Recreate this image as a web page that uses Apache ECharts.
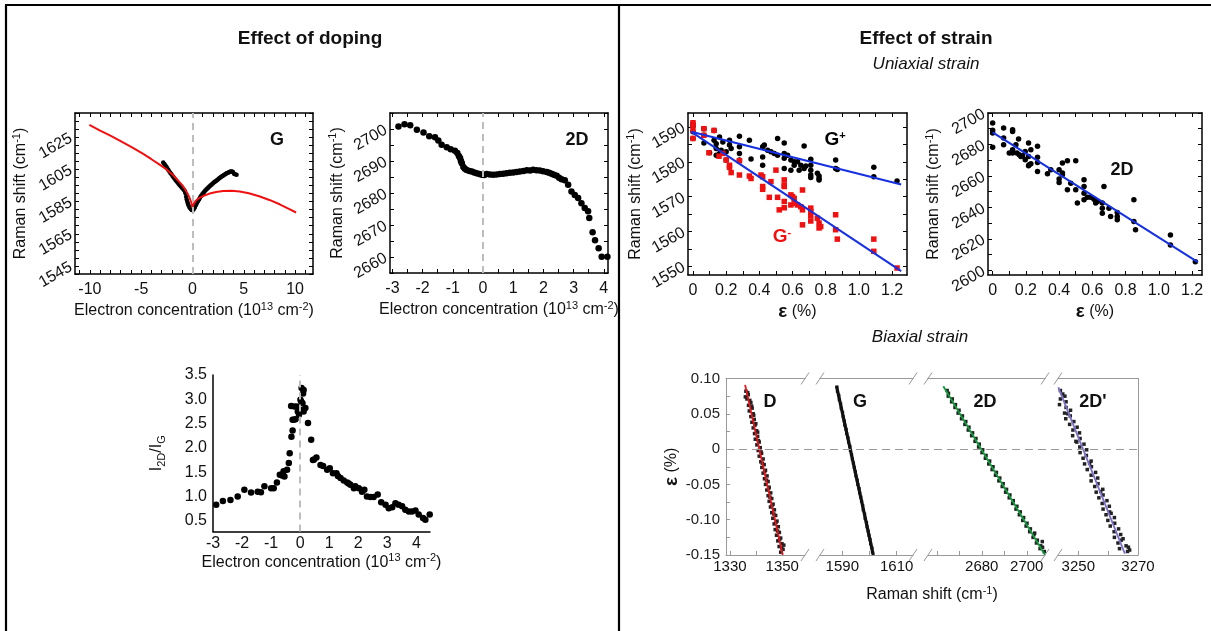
<!DOCTYPE html>
<html><head><meta charset="utf-8">
<script src="https://cdn.jsdelivr.net/npm/echarts@6/dist/echarts.min.js"></script>
<style>html,body{margin:0;padding:0;background:#fff}#c{width:1211px;height:631px}</style>
</head><body><div id="c"></div>
<script>
// ================= DATA =================
// Panel A: G peak vs electron concentration
const gDopXLabels = [-10, -5, 0, 5, 10];
const gDopYLabels = [1545, 1565, 1585, 1605, 1625];
const gDopData = [[-2.85,1609.3],[-2.75,1608.4],[-2.65,1607.5],[-2.55,1606.6],[-2.45,1605.7],[-2.35,1604.6],[-2.25,1603.6],[-2.15,1602.8],[-2.05,1601.9],[-1.95,1601.0],[-1.85,1600.1],[-1.75,1599.3],[-1.65,1598.4],[-1.55,1597.6],[-1.45,1596.8],[-1.35,1596.1],[-1.25,1595.3],[-1.15,1594.5],[-1.05,1593.8],[-0.95,1593.1],[-0.85,1592.4],[-0.75,1591.6],[-0.68,1590.2],[-0.62,1588.0],[-0.56,1586.2],[-0.5,1584.9],[-0.44,1583.6],[-0.38,1582.6],[-0.3,1581.6],[-0.22,1580.8],[-0.14,1580.2],[-0.06,1579.8],[0.02,1579.7],[0.1,1580.1],[0.18,1580.9],[0.26,1581.9],[0.35,1583.0],[0.45,1584.2],[0.55,1585.4],[0.65,1586.5],[0.75,1587.6],[0.85,1588.6],[0.95,1589.5],[1.05,1590.3],[1.15,1591.1],[1.25,1591.8],[1.35,1592.5],[1.45,1593.1],[1.55,1593.7],[1.65,1594.3],[1.75,1594.9],[1.85,1595.5],[1.95,1596.1],[2.05,1596.6],[2.15,1597.1],[2.25,1597.6],[2.35,1598.1],[2.45,1598.6],[2.55,1599.1],[2.65,1599.6],[2.75,1600.1],[2.85,1600.6],[2.95,1601.0],[3.05,1601.4],[3.15,1601.8],[3.25,1602.2],[3.35,1602.6],[3.45,1602.9],[3.55,1603.2],[3.65,1603.5],[3.75,1603.7],[3.85,1603.6],[3.95,1603.3],[4.05,1602.2],[4.15,1601.9],[4.3,1601.7]];
const gDopTheory = [[-10.05,1632.6],[-9,1629.0],[-8,1625.9],[-7,1622.5],[-5.8,1618.3],[-4.8,1614.6],[-4,1611.3],[-3.2,1607.9],[-2.5,1604.8],[-1.9,1601.5],[-1.4,1598.0],[-1.0,1595.2],[-0.73,1592.6],[-0.5,1590.2],[-0.3,1587.6],[-0.15,1585.0],[-0.05,1582.8],[0,1581.0],[0.05,1582.4],[0.15,1583.9],[0.3,1585.3],[0.5,1586.5],[0.75,1587.5],[1.1,1588.6],[1.6,1589.8],[2.3,1590.9],[3.0,1591.5],[3.8,1591.7],[4.6,1591.3],[5.5,1590.2],[6.5,1588.3],[7.5,1586.0],[8.5,1583.3],[9.4,1580.5],[10.1,1578.2]];

// Panel B: 2D peak vs electron concentration
const d2DopXLabels = [-3, -2, -1, 0, 1, 2, 3, 4];
const d2DopYLabels = [2660, 2670, 2680, 2690, 2700];
const d2DopData = [[-2.8,2700.8],[-2.6,2701.5],[-2.41,2701.2],[-2.19,2699.8],[-1.97,2698.9],[-1.78,2697.7],[-1.59,2697.4],[-1.48,2696.4],[-1.37,2695.1],[-1.2,2694.3],[-1.07,2693.7],[-0.93,2693.2],[-0.85,2692.5],[-0.8,2691.6],[-0.76,2690.9],[-0.73,2690.0],[-0.7,2689.3],[-0.65,2688.1],[-0.6,2687.6],[-0.54,2687.2],[-0.45,2686.9],[-0.37,2686.7],[-0.29,2686.4],[-0.21,2686.2],[-0.12,2685.9],[-0.04,2685.7],[0.04,2685.6],[0.12,2685.9],[0.23,2685.8],[0.34,2685.7],[0.45,2685.8],[0.56,2685.9],[0.67,2686.0],[0.78,2686.2],[0.89,2686.3],[1.0,2686.4],[1.11,2686.6],[1.22,2686.7],[1.34,2686.9],[1.45,2687.1],[1.56,2687.0],[1.66,2687.3],[1.77,2687.1],[1.88,2687.0],[1.99,2686.8],[2.11,2686.6],[2.19,2686.3],[2.27,2686.0],[2.35,2685.7],[2.44,2685.4],[2.52,2684.8],[2.6,2684.3],[2.71,2684.0],[2.82,2682.6],[2.93,2680.5],[3.04,2679.4],[3.15,2678.4],[3.26,2676.8],[3.37,2675.3],[3.48,2674.3],[3.52,2672.2],[3.63,2667.7],[3.71,2665.2],[3.83,2662.7],[3.93,2660.1],[4.12,2660.1]];

// Panel C: I2D/IG vs electron concentration
const ratioXLabels = [-3, -2, -1, 0, 1, 2, 3, 4];
const ratioYLabels = [0.5, 1.0, 1.5, 2.0, 2.5, 3.0, 3.5];
const ratioData = [[-2.89,0.83],[-2.66,0.91],[-2.40,0.93],[-2.15,1.0],[-1.92,1.14],[-1.69,1.08],[-1.46,1.10],[-1.35,1.09],[-1.23,1.21],[-1.0,1.17],[-0.91,1.17],[-0.80,1.29],[-0.70,1.45],[-0.62,1.43],[-0.60,1.46],[-0.57,1.52],[-0.54,1.41],[-0.45,1.55],[-0.39,1.69],[-0.36,1.89],[-0.30,2.23],[-0.26,2.36],[-0.26,2.58],[-0.22,2.58],[-0.16,2.59],[-0.31,2.86],[-0.20,2.85],[-0.11,2.85],[-0.08,2.75],[-0.04,2.68],[0.01,2.99],[0.04,2.95],[0.05,3.23],[0.12,3.19],[0.10,3.12],[0.08,2.92],[0.12,2.75],[0.18,2.82],[0.01,2.78],[0.27,2.51],[0.38,2.17],[0.44,1.75],[0.48,1.76],[0.56,1.80],[0.70,1.65],[0.79,1.63],[0.93,1.55],[1.02,1.58],[1.13,1.48],[1.25,1.48],[1.30,1.42],[1.39,1.38],[1.50,1.33],[1.62,1.29],[1.67,1.27],[1.73,1.24],[1.85,1.17],[1.90,1.21],[2.02,1.17],[2.13,1.10],[2.21,1.14],[2.30,1.0],[2.42,0.99],[2.53,0.99],[2.67,1.04],[2.79,0.88],[2.94,0.83],[3.05,0.76],[3.17,0.78],[3.28,0.86],[3.39,0.83],[3.51,0.80],[3.62,0.73],[3.74,0.69],[3.85,0.69],[3.97,0.71],[4.08,0.63],[4.23,0.56],[4.31,0.52],[4.46,0.63]];

// Panel D: uniaxial strain, G+ / G-
const strainXLabels = [0, 0.2, 0.4, 0.6, 0.8, 1.0, 1.2];
const gStrYLabels = [1550, 1560, 1570, 1580, 1590];
const gPlusData = [[0,1590.9],[0,1590.2],[0,1588.6],[0,1586.7],[0.066,1589.5],[0.066,1587.6],[0.066,1585.4],[0.127,1589.0],[0.127,1586.2],[0.10,1582.6],[0.14,1585.2],[0.14,1583.8],[0.14,1581.9],[0.16,1587.1],[0.16,1582.4],[0.18,1585.7],[0.17,1583.3],[0.2,1582.9],[0.2,1580.5],[0.22,1586.2],[0.22,1584.8],[0.23,1583.8],[0.28,1587.3],[0.28,1584.3],[0.28,1582.4],[0.28,1580.5],[0.34,1586.2],[0.35,1580.8],[0.42,1584.3],[0.42,1581.4],[0.42,1579.0],[0.43,1584.8],[0.45,1583.3],[0.47,1582.9],[0.49,1582.4],[0.51,1586.7],[0.51,1581.9],[0.55,1585.4],[0.55,1582.4],[0.55,1581.0],[0.55,1578.1],[0.57,1581.9],[0.59,1580.5],[0.59,1577.6],[0.61,1580.0],[0.61,1579.0],[0.63,1580.0],[0.64,1577.6],[0.65,1579.0],[0.67,1584.5],[0.67,1578.1],[0.68,1578.8],[0.71,1580.7],[0.71,1579.0],[0.71,1577.6],[0.71,1576.2],[0.71,1575.5],[0.75,1576.7],[0.76,1575.9],[0.76,1575.2],[0.76,1574.8],[0.86,1580.5],[0.86,1578.1],[0.87,1577.8],[1.09,1578.4],[1.09,1575.7],[1.23,1574.5]];
const gMinusData = [[0,1591.2],[0,1590.5],[0,1589.0],[0,1586.7],[0.066,1589.5],[0.066,1587.6],[0.096,1582.6],[0.127,1589.0],[0.157,1581.6],[0.18,1582.4],[0.2,1580.5],[0.22,1579.0],[0.22,1578.4],[0.23,1576.9],[0.28,1576.2],[0.28,1580.3],[0.34,1575.9],[0.35,1575.2],[0.41,1576.2],[0.42,1575.7],[0.42,1572.9],[0.42,1572.1],[0.47,1574.3],[0.46,1569.8],[0.50,1577.6],[0.51,1569.8],[0.52,1566.2],[0.55,1574.8],[0.55,1573.3],[0.55,1572.9],[0.55,1568.6],[0.55,1566.8],[0.59,1570.5],[0.59,1567.6],[0.60,1570.0],[0.61,1569.5],[0.61,1568.1],[0.63,1567.6],[0.65,1567.1],[0.66,1571.9],[0.66,1566.2],[0.66,1561.9],[0.71,1566.7],[0.71,1565.7],[0.71,1564.5],[0.71,1563.0],[0.75,1563.8],[0.76,1562.4],[0.76,1561.0],[0.77,1561.4],[0.86,1564.8],[0.86,1560.5],[0.87,1557.8],[1.09,1557.8],[1.09,1554.3],[1.23,1549.5]];
const gPlusFit = [[-0.01,1588.6],[1.255,1573.5]];
const gMinusFit = [[-0.01,1588.6],[1.255,1548.6]];

// Panel E: uniaxial strain, 2D
const d2StrYLabels = [2600, 2620, 2640, 2660, 2680, 2700];
const d2StrData = [[0,2693.6],[0,2689.0],[0,2687.3],[0,2678.3],[0.066,2690.4],[0.066,2684.1],[0.066,2679.8],[0.10,2674.5],[0.12,2689.4],[0.12,2688.3],[0.12,2676.6],[0.12,2674.5],[0.14,2679.8],[0.156,2683.4],[0.146,2674.5],[0.16,2673.5],[0.17,2672.4],[0.18,2672.8],[0.196,2675.6],[0.196,2670.3],[0.216,2680.9],[0.216,2672.4],[0.22,2667.1],[0.216,2666.5],[0.23,2676.6],[0.23,2667.7],[0.27,2678.8],[0.27,2671.8],[0.27,2668.6],[0.27,2662.8],[0.33,2661.4],[0.35,2663.9],[0.40,2663.9],[0.40,2658.0],[0.40,2655.8],[0.42,2661.8],[0.42,2660.7],[0.42,2668.2],[0.45,2669.6],[0.45,2651.2],[0.47,2655.4],[0.50,2669.6],[0.50,2651.2],[0.51,2642.7],[0.55,2657.5],[0.55,2653.3],[0.55,2649.0],[0.55,2644.8],[0.57,2646.5],[0.59,2646.5],[0.61,2645.2],[0.62,2642.7],[0.63,2643.7],[0.67,2653.3],[0.66,2642.7],[0.66,2639.5],[0.66,2636.3],[0.70,2639.5],[0.71,2634.2],[0.75,2636.7],[0.75,2632.1],[0.75,2634.2],[0.85,2644.8],[0.85,2631.0],[0.86,2625.7],[1.07,2622.5],[1.07,2616.1],[1.22,2605.5]];
const d2StrFit = [[0,2687.7],[1.235,2605.2]];

// Panel F: biaxial strain (strain vs Raman shift, broken x axis)
const biaxYLabels = [0.10, 0.05, 0, -0.05, -0.10, -0.15];
const biaxDLabels = [1330, 1350];
const biaxGLabels = [1590, 1610];
const biax2DLabels = [2680, 2700];
const biax2DpLabels = [3250, 3270];
const biaxD = [[1336.1,0.082],[1336.8,0.080],[1337.0,0.077],[1335.9,0.074],[1336.5,0.071],[1337.6,0.069],[1338.0,0.066],[1337.1,0.062],[1338.3,0.061],[1338.5,0.058],[1337.4,0.054],[1338.9,0.050],[1339.1,0.048],[1338.0,0.046],[1339.3,0.042],[1338.4,0.038],[1339.9,0.036],[1339.6,0.034],[1338.9,0.030],[1340.2,0.026],[1340.6,0.024],[1339.4,0.022],[1340.6,0.018],[1339.7,0.014],[1340.9,0.012],[1341.2,0.010],[1340.3,0.006],[1341.6,0.002],[1340.8,-0.002],[1341.9,-0.004],[1342.1,-0.006],[1341.2,-0.010],[1342.7,-0.014],[1341.8,-0.018],[1342.4,-0.020],[1343.1,-0.022],[1342.2,-0.026],[1343.6,-0.030],[1343.3,-0.032],[1342.7,-0.034],[1344.2,-0.038],[1343.2,-0.042],[1344.0,-0.044],[1344.6,-0.046],[1343.6,-0.050],[1345.0,-0.054],[1344.8,-0.056],[1344.1,-0.058],[1345.6,-0.062],[1344.6,-0.066],[1345.3,-0.068],[1346.0,-0.070],[1345.0,-0.074],[1346.5,-0.078],[1346.1,-0.080],[1345.5,-0.082],[1347.0,-0.086],[1346.0,-0.090],[1346.8,-0.092],[1347.5,-0.094],[1346.4,-0.098],[1348.0,-0.102],[1347.6,-0.104],[1346.9,-0.106],[1348.5,-0.110],[1347.3,-0.114],[1348.2,-0.116],[1348.9,-0.118],[1347.8,-0.122],[1349.4,-0.126],[1349.0,-0.128],[1348.3,-0.130],[1349.9,-0.134],[1350.6,-0.136],[1348.8,-0.138],[1349.8,-0.140],[1350.3,-0.142],[1349.4,-0.146]];
const biaxG = [[1588.0,0.088],[1588.2,0.082],[1588.7,0.076],[1588.9,0.070],[1589.4,0.064],[1589.6,0.058],[1590.1,0.052],[1590.3,0.046],[1590.7,0.040],[1590.9,0.034],[1591.4,0.028],[1591.6,0.022],[1592.1,0.016],[1592.3,0.010],[1592.8,0.004],[1593.0,-0.002],[1593.4,-0.008],[1593.7,-0.014],[1594.1,-0.020],[1594.4,-0.026],[1594.8,-0.032],[1595.0,-0.038],[1595.5,-0.044],[1595.7,-0.050],[1596.2,-0.056],[1596.4,-0.062],[1596.8,-0.068],[1597.1,-0.074],[1597.5,-0.080],[1597.7,-0.086],[1598.2,-0.092],[1598.4,-0.098],[1598.9,-0.104],[1599.1,-0.110],[1599.5,-0.116],[1599.8,-0.122],[1600.2,-0.128],[1600.4,-0.134],[1600.9,-0.140],[1601.1,-0.146]];
const biax2D = [[2664.6,0.083],[2665.2,0.079],[2665.1,0.075],[2666.9,0.071],[2666.6,0.067],[2668.3,0.063],[2668.1,0.059],[2669.9,0.055],[2669.5,0.051],[2671.4,0.047],[2671.0,0.043],[2672.9,0.039],[2672.5,0.035],[2674.3,0.031],[2674.0,0.027],[2675.9,0.023],[2675.5,0.019],[2677.4,0.015],[2677.0,0.011],[2678.9,0.007],[2678.6,0.003],[2680.4,-0.001],[2680.1,-0.005],[2681.9,-0.009],[2681.6,-0.013],[2683.5,-0.017],[2683.1,-0.021],[2685.0,-0.025],[2684.6,-0.029],[2686.5,-0.033],[2686.1,-0.037],[2688.0,-0.041],[2687.6,-0.045],[2689.5,-0.049],[2689.1,-0.053],[2691.0,-0.057],[2690.6,-0.061],[2692.5,-0.065],[2692.2,-0.069],[2694.0,-0.073],[2693.7,-0.077],[2695.6,-0.081],[2695.2,-0.085],[2697.1,-0.089],[2696.7,-0.093],[2698.6,-0.097],[2698.2,-0.101],[2700.1,-0.105],[2699.7,-0.109],[2701.6,-0.113],[2701.3,-0.117],[2703.5,-0.119],[2703.2,-0.121],[2702.8,-0.125],[2704.7,-0.129],[2706.9,-0.131],[2704.3,-0.133],[2706.2,-0.137],[2707.0,-0.139],[2705.9,-0.141],[2707.8,-0.145]];
const biax2Dp = [[3244.0,0.083],[3244.8,0.078],[3242.4,0.079],[3245.5,0.075],[3244.0,0.071],[3245.9,0.067],[3243.7,0.063],[3245.9,0.059],[3247.4,0.055],[3245.4,0.051],[3246.5,0.050],[3247.3,0.047],[3245.8,0.043],[3248.5,0.039],[3247.1,0.035],[3249.6,0.031],[3248.2,0.027],[3250.4,0.023],[3248.1,0.019],[3250.6,0.015],[3249.2,0.011],[3249.5,0.010],[3251.9,0.007],[3250.5,0.003],[3252.8,-0.001],[3250.6,-0.005],[3252.7,-0.009],[3251.6,-0.013],[3254.3,-0.017],[3252.1,-0.021],[3253.8,-0.020],[3254.4,-0.025],[3253.0,-0.029],[3255.8,-0.033],[3254.3,-0.037],[3256.5,-0.041],[3254.3,-0.045],[3256.6,-0.049],[3255.5,-0.053],[3258.2,-0.057],[3257.5,-0.060],[3256.0,-0.061],[3258.3,-0.065],[3256.9,-0.069],[3259.6,-0.073],[3258.0,-0.077],[3260.4,-0.081],[3258.3,-0.085],[3260.5,-0.089],[3261.0,-0.091],[3259.3,-0.093],[3262.1,-0.097],[3259.9,-0.101],[3262.2,-0.105],[3260.7,-0.109],[3263.5,-0.113],[3262.0,-0.117],[3264.2,-0.121],[3262.1,-0.125],[3265.0,-0.127],[3264.4,-0.129],[3263.3,-0.133],[3266.0,-0.137],[3266.8,-0.139],[3263.8,-0.141],[3267.2,-0.143],[3266.5,-0.145]];
const biaxDFit = [[1335.8,0.091],[1350.2,-0.15]];
const biaxGFit = [[1587.9,0.089],[1601.4,-0.15]];
const biax2DFit = [[2662.9,0.089],[2708.1,-0.15]];
const biax2DpFit = [[3243.3,0.0875],[3265.6,-0.148]];

// ================= LAYOUT / STYLE =================
const FONT = '"Liberation Sans", Arial, Helvetica, sans-serif';
const TXT = '#111';
const RICH = {
  s: {fontSize: 11, verticalAlign: 'top', lineHeight: 10, fontFamily: FONT, color: TXT},
  d: {fontSize: 11, verticalAlign: 'bottom', lineHeight: 10, fontFamily: FONT, color: TXT},
  e: {fontSize: 19, fontWeight: 'bold', fontFamily: FONT, color: TXT}
};
function steps(a, b, s) { const r = []; const n = Math.round((b - a) / s); for (let i = 0; i <= n; i++) r.push(+(a + i * s).toFixed(6)); return r; }

const G = {
  A: {left: 75, top: 113, width: 238, height: 161},
  B: {left: 390, top: 113, width: 218, height: 160},
  C: {left: 213, top: 375, width: 217, height: 156.5},
  D: {left: 688, top: 113, width: 219, height: 162},
  E: {left: 988, top: 113, width: 214, height: 162},
  F: {left: 726, top: 378.5, width: 412, height: 176.5},
  F1: {left: 726, top: 378.5, width: 79, height: 176.5},
  F2: {left: 820, top: 378.5, width: 93, height: 176.5},
  F3: {left: 928, top: 378.5, width: 117, height: 176.5},
  F4: {left: 1058, top: 378.5, width: 80, height: 176.5}
};
const gridOrder = ['A','B','C','D','E','F','F1','F2','F3','F4'];
const gi = k => gridOrder.indexOf(k);
const plain = v => String(v);

function axis(o) {
  const col = o.color || '#000';
  const a = {
    type: 'value', gridIndex: gi(o.g), min: o.min, max: o.max, position: o.pos,
    show: o.show !== false,
    axisLine: {show: o.line !== false, onZero: false, lineStyle: {color: col, width: o.lw || 1.5}},
    axisTick: {show: !!o.ticks, inside: true, length: o.tickLen || 4, lineStyle: {color: col, width: 1}},
    axisLabel: {show: !!o.labels, margin: o.margin == null ? 8 : o.margin, rotate: o.rotate || 0,
      color: TXT, fontSize: o.fs || 16, fontFamily: FONT, formatter: o.fmt || plain},
    splitLine: {show: false},
    name: o.name || '', nameLocation: 'middle', nameGap: o.nameGap || 30,
    nameTextStyle: {fontSize: 16, fontFamily: FONT, color: TXT, lineHeight: 20, rich: RICH}
  };
  if (o.ticks) a.axisTick.customValues = o.ticks;
  if (o.labels) a.axisLabel.customValues = o.labels;
  return a;
}
const fmt1 = v => (v === 0 ? '0' : v.toFixed(1));
const fmt2 = v => (Math.abs(v) < 1e-9 ? '0' : v.toFixed(2));
const ramanName = 'Raman shift (cm{s|-1})';
const elecName = 'Electron concentration (10{s|13} cm{s|-2})';

const xAxes = [
  // 0,1 A
  axis({g:'A', min:-11.45, max:11.75, pos:'bottom', labels:gDopXLabels, ticks:steps(-11,11,1), name:elecName, nameGap:27}),
  axis({g:'A', min:-11.45, max:11.75, pos:'top', ticks:steps(-11,11,1)}),
  // 2,3 B
  axis({g:'B', min:-3.08, max:4.14, pos:'bottom', labels:d2DopXLabels, ticks:steps(-3,4,0.5), name:elecName, nameGap:27}),
  axis({g:'B', min:-3.08, max:4.14, pos:'top', ticks:steps(-3,4,0.5)}),
  // 4 C
  axis({g:'C', min:-3, max:4.47, pos:'bottom', labels:ratioXLabels, margin:4, name:elecName, nameGap:20}),
  // 5,6 D
  axis({g:'D', min:-0.03, max:1.29, pos:'bottom', labels:strainXLabels, ticks:steps(0,1.2,0.1), fmt:fmt1, name:'{e|ε} (%)', nameGap:27}),
  axis({g:'D', min:-0.03, max:1.29, pos:'top', ticks:steps(0,1.2,0.1)}),
  // 7,8 E
  axis({g:'E', min:-0.028, max:1.26, pos:'bottom', labels:strainXLabels, ticks:steps(0,1.2,0.1), fmt:fmt1, name:'{e|ε} (%)', nameGap:27}),
  axis({g:'E', min:-0.028, max:1.26, pos:'top', ticks:steps(0,1.2,0.1)}),
  // 9 F overall (name only)
  axis({g:'F', min:0, max:1, pos:'bottom', line:false, name:'Raman shift (cm{s|-1})', nameGap:30}),
  // 10..17 F segments
  axis({g:'F1', min:1328.5, max:1358.7, pos:'bottom', labels:biaxDLabels, ticks:[1330,1340,1350], color:'#999', lw:1, margin:4, fs:15}),
  axis({g:'F1', min:1328.5, max:1358.7, pos:'top', color:'#999', lw:1}),
  axis({g:'F2', min:1581.8, max:1616.0, pos:'bottom', labels:biaxGLabels, ticks:[1590,1600,1610], color:'#999', lw:1, margin:4, fs:15}),
  axis({g:'F2', min:1581.8, max:1616.0, pos:'top', color:'#999', lw:1}),
  axis({g:'F3', min:2656.1, max:2708.1, pos:'bottom', labels:biax2DLabels, ticks:[2660,2670,2680,2690,2700], color:'#999', lw:1, margin:4, fs:15}),
  axis({g:'F3', min:2656.1, max:2708.1, pos:'top', color:'#999', lw:1}),
  axis({g:'F4', min:3243.2, max:3270, pos:'bottom', labels:biax2DpLabels, ticks:[3250,3260], color:'#999', lw:1, margin:4, fs:15}),
  axis({g:'F4', min:3243.2, max:3270, pos:'top', color:'#999', lw:1})
];
const yAxes = [
  // 0,1 A
  axis({g:'A', min:1540, max:1640, pos:'left', labels:gDopYLabels, ticks:steps(1540,1640,5), rotate:30, margin:4, name:ramanName, nameGap:44}),
  axis({g:'A', min:1540, max:1640, pos:'right', ticks:steps(1540,1640,5)}),
  // 2,3 B
  axis({g:'B', min:2655, max:2705, pos:'left', labels:d2DopYLabels, ticks:steps(2655,2705,5), rotate:30, margin:4, name:ramanName, nameGap:40}),
  axis({g:'B', min:2655, max:2705, pos:'right', ticks:steps(2655,2705,5)}),
  // 4 C
  axis({g:'C', min:0.28, max:3.5, pos:'left', labels:ratioYLabels, fmt:v=>v.toFixed(1), margin:6, name:'I{d|2D}/I{d|G}', nameGap:46}),
  // 5,6 D
  axis({g:'D', min:1547.5, max:1594, pos:'left', labels:gStrYLabels, ticks:steps(1550,1590,5), rotate:30, margin:4, name:ramanName, nameGap:40}),
  axis({g:'D', min:1547.5, max:1594, pos:'right', ticks:steps(1550,1590,5)}),
  // 7,8 E
  axis({g:'E', min:2597, max:2700, pos:'left', labels:d2StrYLabels, ticks:steps(2600,2700,10), rotate:30, margin:4, name:ramanName, nameGap:44}),
  axis({g:'E', min:2597, max:2700, pos:'right', ticks:steps(2600,2700,10)}),
  // 9,10 F overall
  axis({g:'F', min:-0.15, max:0.1, pos:'left', labels:biaxYLabels, ticks:steps(-0.15,0.1,0.025), fmt:fmt2, color:'#999', lw:1, margin:6, fs:15, name:'{e|ε} (%)', nameGap:44}),
  axis({g:'F', min:-0.15, max:0.1, pos:'right', color:'#999', lw:1}),
  // 11..14 F segments (hidden)
  axis({g:'F1', min:-0.15, max:0.1, pos:'left', show:false}),
  axis({g:'F2', min:-0.15, max:0.1, pos:'left', show:false}),
  axis({g:'F3', min:-0.15, max:0.1, pos:'left', show:false}),
  axis({g:'F4', min:-0.15, max:0.1, pos:'left', show:false})
];
yAxes[9].axisLabel.color = '#222';

const dash0 = (c, w, t) => ({silent: true, symbol: 'none', label: {show: false}, animation: false,
  lineStyle: {type: t, color: c, width: w}});

function scat(xi, yi, data, size, color, symbol) {
  return {type: 'scatter', xAxisIndex: xi, yAxisIndex: yi, data, symbol: symbol || 'circle', symbolSize: size,
    itemStyle: {color, opacity: 1}, silent: true};
}
function line(xi, yi, data, color, width) {
  return {type: 'line', xAxisIndex: xi, yAxisIndex: yi, data, showSymbol: false, symbol: 'none',
    lineStyle: {color, width}, silent: true, clip: false};
}

const series = [
  // A
  Object.assign(line(0, 0, gDopTheory, '#f01010', 2), {markLine: Object.assign(dash0('#bdbdbd', 2, [7, 5]), {data: [{xAxis: 0}]})}),
  scat(0, 0, gDopData, 4.5, '#000'),
  // B
  Object.assign(scat(2, 2, d2DopData, 6.5, '#000'), {markLine: Object.assign(dash0('#bdbdbd', 2, [7, 5]), {data: [{xAxis: 0}]})}),
  // C
  Object.assign(scat(4, 4, ratioData, 6.5, '#000'), {markLine: Object.assign(dash0('#bdbdbd', 2, [7, 5]), {data: [{xAxis: 0}]})}),
  // D
  scat(5, 5, gPlusData, 5.5, '#000'),
  scat(5, 5, gMinusData, 5.5, '#f01010', 'rect'),
  line(5, 5, gPlusFit, '#1530e0', 2),
  line(5, 5, gMinusFit, '#1530e0', 2),
  // E
  scat(7, 7, d2StrData, 5.5, '#000'),
  line(7, 7, d2StrFit, '#1530e0', 2),
  // F zero line
  Object.assign(line(9, 9, [], '#999', 1), {markLine: Object.assign(dash0('#999', 1, [8, 5]), {data: [{yAxis: 0}]})}),
  // F segments
  scat(10, 11, biaxD, 3.5, '#222', 'rect'),
  line(10, 11, biaxDFit, '#e8141c', 1.8),
  line(12, 12, biaxGFit, '#111', 3.2),
  scat(12, 12, biaxG, 3.2, '#222', 'rect'),
  scat(14, 13, biax2D, 3.5, '#222', 'rect'),
  line(14, 13, biax2DFit, '#129a3c', 1.8),
  scat(16, 14, biax2Dp, 3.5, '#222', 'rect'),
  line(16, 14, biax2DpFit, '#7a70c8', 1.8)
];

// ============ graphics: frame, titles, panel labels, axis breaks ============
const graphics = [];
function gl(x1, y1, x2, y2, c, w) { graphics.push({type: 'line', silent: true, z: 100, shape: {x1, y1, x2, y2}, style: {stroke: c, lineWidth: w}}); }
function gt(x, y, text, font, color, rich) {
  graphics.push({type: 'text', silent: true, z: 100, x, y, style: {text, font, fill: color || TXT, textAlign: 'center', textVerticalAlign: 'middle', rich: rich || undefined}});
}
gl(5, 5, 1211, 5, '#000', 2.2);
gl(6, 5, 6, 631, '#000', 2.2);
gl(619, 5, 619, 631, '#000', 2.2);
gt(310, 39, 'Effect of doping', 'bold 19px ' + FONT);
gt(926, 39, 'Effect of strain', 'bold 19px ' + FONT);
gt(926, 64, 'Uniaxial strain', 'italic 17px ' + FONT);
gt(920, 337, 'Biaxial strain', 'italic 17px ' + FONT);
gt(277, 140, 'G', 'bold 18px ' + FONT);
gt(577, 140, '2D', 'bold 18px ' + FONT);
gt(1122, 170, '2D', 'bold 18px ' + FONT);
const supRich = c => ({b: {font: 'bold 19px ' + FONT, fill: c}, p: {font: 'bold 11px ' + FONT, fill: c, verticalAlign: 'top', lineHeight: 8}});
gt(835, 140, '{b|G}{p|+}', 'bold 19px ' + FONT, '#000', supRich('#000'));
gt(782, 237, '{b|G}{p|-}', 'bold 19px ' + FONT, '#f01010', supRich('#f01010'));
gt(770, 402, 'D', 'bold 18px ' + FONT);
gt(860, 402, 'G', 'bold 18px ' + FONT);
gt(985, 402, '2D', 'bold 18px ' + FONT);
gt(1093, 402, "2D'", 'bold 18px ' + FONT);
// axis break marks
const Ft = G.F.top, Fb = G.F.top + G.F.height;
[G.F1.left + G.F1.width, G.F2.left, G.F2.left + G.F2.width, G.F3.left, G.F3.left + G.F3.width, G.F4.left].forEach(x => {
  gl(x - 4, Ft + 6, x + 4, Ft - 6, '#999', 1);
  gl(x - 4, Fb + 6, x + 4, Fb - 6, '#999', 1);
});

const chart = echarts.init(document.getElementById('c'), null, {renderer: 'canvas'});
chart.setOption({
  animation: false,
  backgroundColor: '#fff',
  grid: gridOrder.map(k => Object.assign({containLabel: false}, G[k])),
  xAxis: xAxes,
  yAxis: yAxes,
  series,
  graphic: graphics
});
</script></body></html>
